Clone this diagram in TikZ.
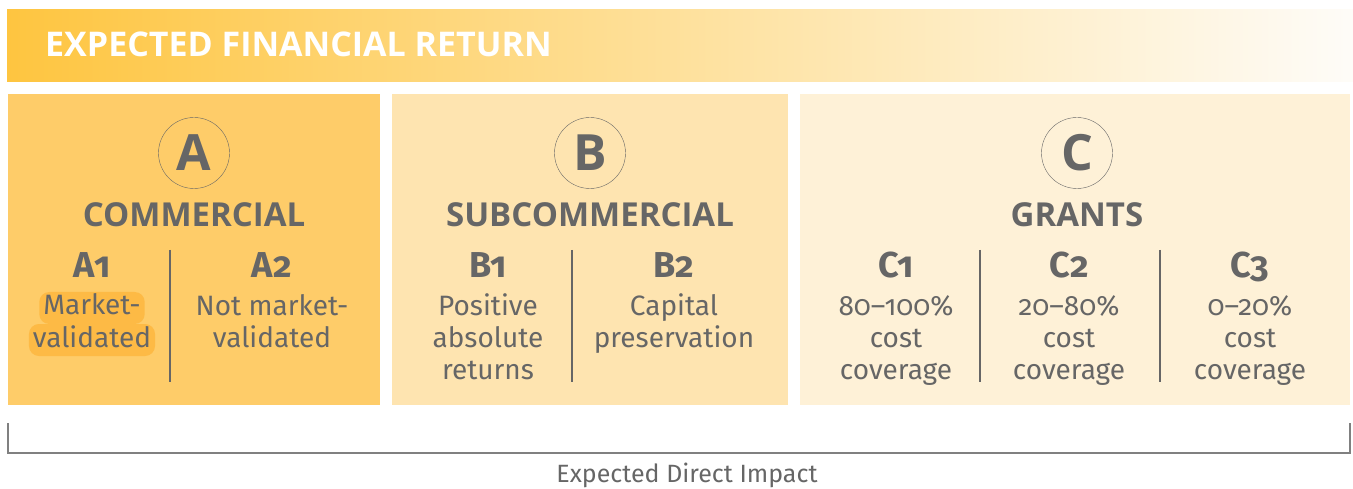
\documentclass[tikz,border=0pt]{standalone}
\usepackage{fontspec}
\setmainfont{Fira Sans}[Numbers=OldStyle]
\newfontfamily\headfont{Open Sans}
\usepackage{tikz}

\definecolor{hdrleft}{HTML}{FEC540}
\definecolor{hdrmid}{HTML}{FED995}
\definecolor{hdrright}{HTML}{FEFCF8}
\definecolor{boxA}{HTML}{FECC69}
\definecolor{boxB}{HTML}{FEE4B0}
\definecolor{boxC}{HTML}{FEF1D7}
\definecolor{hilite}{HTML}{FDBA45}
\definecolor{txtgray}{HTML}{666666}
\definecolor{rulegray}{HTML}{808080}

\tikzset{
  badge/.style={draw=txtgray, circle, minimum size=71pt, inner sep=0pt, text=txtgray,
    font=\headfont\bfseries\fontsize{50}{50}\selectfont},
  tier/.style={anchor=base, text=txtgray, font=\headfont\bfseries\fontsize{33}{36}\selectfont},
  sublabel/.style={anchor=base, text=txtgray, font=\bfseries\fontsize{36}{38}\selectfont},
  desc/.style={anchor=base, align=center, text=txtgray, font=\fontsize{28}{32}\selectfont},
  hiline/.style={desc, fill=hilite, rounded corners=10pt, inner xsep=4pt, inner ysep=3pt,
    text height=20pt, text depth=6pt},
  divider/.style={draw=txtgray, line width=1.3pt}
}

\begin{document}
\begin{tikzpicture}[x=1pt,y=-1pt]
\useasboundingbox (0,0) rectangle (1353,489);
\shade[left color=hdrleft, middle color=hdrmid, right color=hdrright] (7,10) rectangle (1353,82);
\node[anchor=base west, inner sep=0pt, text=white, font=\headfont\bfseries\fontsize{34}{36}\selectfont] (hdr) at (45,57) {EXPECTED FINANCIAL RETURN};
\fill[boxA] (8,94) rectangle (380,405);
\fill[boxB] (392,94) rectangle (788,405);
\fill[boxC] (800,94) rectangle (1350,405);
\node[badge] (bA) at (194,153) {A};
\node[badge] (bB) at (590,153) {B};
\node[badge] (bC) at (1077,153) {C};
\node[tier] (tA) at (194,227) {COMMERCIAL};
\node[tier] (tB) at (590,227) {SUBCOMMERCIAL};
\node[tier] (tC) at (1077,227) {GRANTS};
\node[sublabel] (a1) at (92,278) {A1};
\node[sublabel] (a2) at (272,278) {A2};
\node[sublabel] (b1) at (488,278) {B1};
\node[sublabel] (b2) at (674,278) {B2};
\node[sublabel] (c1) at (896,278) {C1};
\node[sublabel] (c2) at (1069,278) {C2};
\node[sublabel] (c3) at (1250,278) {C3};
\node[hiline] (a1l1) at (92,315) {Market-};
\node[hiline] (a1l2) at (92,347) {validated};
\node[desc] (a2t) at (272,347) {Not market-\\validated};
\node[desc] (b1t) at (488,379) {Positive\\absolute\\returns};
\node[desc] (b2t) at (674,347) {Capital\\preservation};
\node[desc] (c1t) at (896,379) {80–100\%\\cost\\coverage};
\node[desc] (c2t) at (1069,379) {20–80\%\\cost\\coverage};
\node[desc] (c3t) at (1250,379) {0–20\%\\cost\\coverage};
\draw[divider] (170,250) -- (170,382);
\draw[divider] (572,250) -- (572,382);
\draw[divider] (980,250) -- (980,382);
\draw[divider] (1160,250) -- (1160,382);
\draw[rulegray, line width=1.2pt] (8,423) |- (1350,453) -- (1350,423);
\node[anchor=base, inner sep=0pt, text=txtgray, font=\fontsize{25}{28}\selectfont] (impact) at (687,482) {Expected Direct Impact};
\end{tikzpicture}
\end{document}
